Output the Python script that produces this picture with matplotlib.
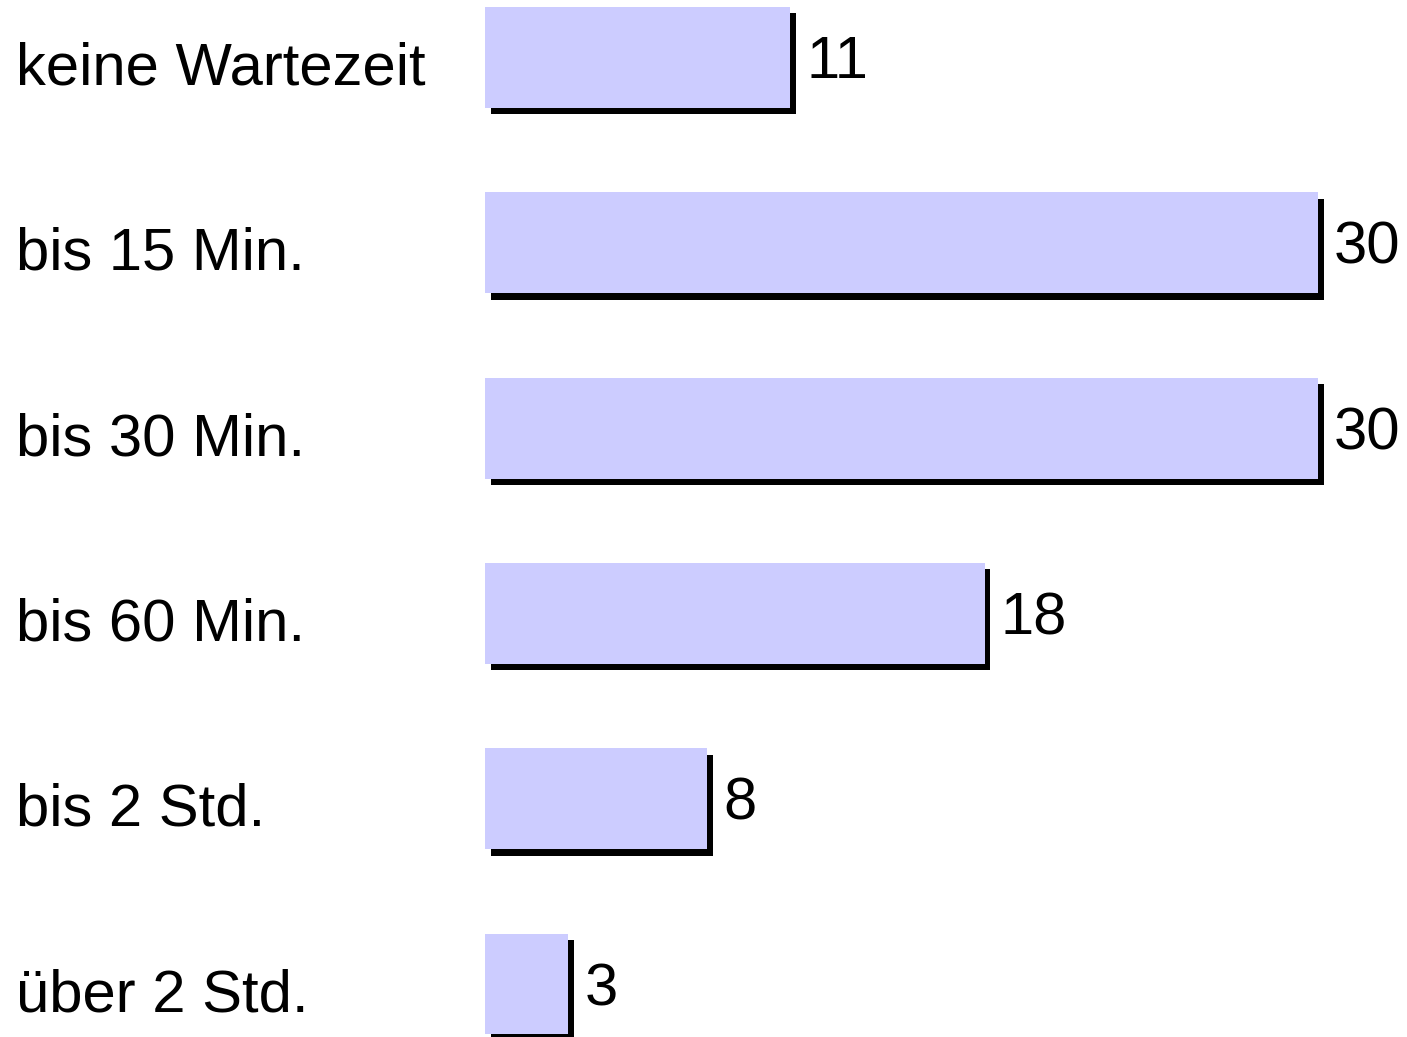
import matplotlib
matplotlib.use("Agg")
import matplotlib.pyplot as plt
import matplotlib.transforms as mtransforms
import numpy as np

# Wartezeit categories and counts
categories = ["keine Wartezeit", "bis 15 Min.", "bis 30 Min.", "bis 60 Min.", "bis 2 Std.", "über 2 Std."]
values = [11, 30, 30, 18, 8, 3]

plt.rcParams["font.family"] = ["Liberation Sans", "DejaVu Sans"]

fig = plt.figure(figsize=(14.07, 10.37), dpi=100)
ax = fig.add_axes([485 / 1407, 0, 922 / 1407, 1])

y = np.arange(len(categories))

# Shadow behind each bar (offset a few pixels right and down)
shadow = ax.transData + mtransforms.ScaledTranslation(5.5 / 100, -6.5 / 100, fig.dpi_scale_trans)
ax.barh(y, values, height=0.545, color="black", transform=shadow)
ax.barh(y, values, height=0.545, color="#CCCCFF")

ax.set_xlim(0, 922 / 27.77)
ax.set_ylim(5.286, -0.310)
ax.axis("off")

# Category labels at the left edge of the figure
label_tr = mtransforms.blended_transform_factory(fig.transFigure, ax.transData)
label_tr = label_tr + mtransforms.ScaledTranslation(0, -27 / 100, fig.dpi_scale_trans)
for i, name in enumerate(categories):
    ax.text(16 / 1407, y[i], name, transform=label_tr, ha="left", va="baseline", fontsize=43)

# Value labels to the right of each bar
value_tr = ax.transData + mtransforms.ScaledTranslation(16 / 100, -21 / 100, fig.dpi_scale_trans)
for i, v in enumerate(values):
    ax.text(v, y[i], str(v), transform=value_tr, ha="left", va="baseline", fontsize=43)

fig.savefig("out.png", dpi=100)
